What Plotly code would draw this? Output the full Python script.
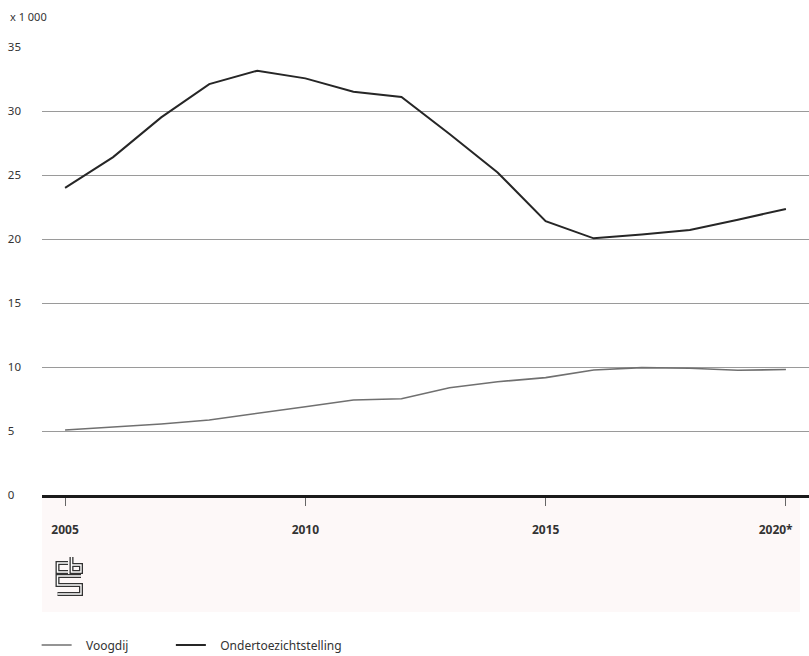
import plotly.graph_objects as go

years = list(range(2005, 2021))
ondertoezichtstelling = [24.0, 26.4, 29.5, 32.1, 33.15, 32.55, 31.5, 31.1, 28.2, 25.2, 21.4, 20.05, 20.35, 20.7, 21.5, 22.35]
voogdij = [5.08, 5.3, 5.55, 5.86, 6.4, 6.9, 7.42, 7.52, 8.38, 8.85, 9.17, 9.77, 9.95, 9.9, 9.75, 9.8]

y_ticks = [0, 5, 10, 15, 20, 25, 30, 35]
y_ticktext = ["0\u2007", "5\u2007", "10", "15", "20", "25", "30", "35"]
x_ticks = [2005, 2010, 2015, 2020]
x_ticktext = ["<b>2005</b>", "<b>2010</b>", "<b>2015</b>", "<b>2020*</b>\u2007\u2007\u2007"]

W, H = 809, 656
L, R, T, B = 42, 0, 47, 161
pw, ph = W - L - R, H - T - B

def px(x):
    return (x - L) / pw

def py(y):
    return (H - B - y) / ph

fig = go.Figure()
fig.add_trace(go.Scatter(x=years, y=voogdij, mode="lines",
                         name="\u00a0\u00a0\u00a0Voogdij" + "\u00a0" * 12,
                         line=dict(color="#707070", width=1.6)))
fig.add_trace(go.Scatter(x=years, y=ondertoezichtstelling, mode="lines",
                         name="\u00a0\u00a0\u00a0Ondertoezichtstelling",
                         line=dict(color="#262626", width=2)))

shapes = []
shapes.append(dict(type="rect", xref="paper", yref="paper", x0=px(42), x1=px(800), y0=py(612), y1=py(497),
                   fillcolor="#fdf8f8", line=dict(width=0), layer="below"))

logo_paths = [
    [(68, 563), (57.5, 563), (57.5, 572), (68, 572)],
    [(71.5, 557), (71.5, 572), (81, 572), (81, 565), (71.5, 565)],
    [(81, 576), (57.5, 576), (57.5, 585), (81, 585), (81, 594), (57.5, 594)],
]
for pts in logo_paths:
    d = "M " + " L ".join(f"{px(x):.5f},{py(y):.5f}" for x, y in pts)
    shapes.append(dict(type="path", xref="paper", yref="paper", path=d, line=dict(color="#333333", width=4)))
    shapes.append(dict(type="path", xref="paper", yref="paper", path=d, line=dict(color="#ffffff", width=1.4)))

fig.update_layout(
    width=W, height=H,
    margin=dict(l=L, r=R, t=T, b=B, autoexpand=False),
    paper_bgcolor="white", plot_bgcolor="white",
    font=dict(family="Noto Sans", size=11, color="#333333"),
    showlegend=True,
    legend=dict(orientation="h", x=-0.007, xanchor="left", y=py(645), yanchor="middle",
                font=dict(size=12, color="#333333"), itemwidth=30, traceorder="normal"),
    shapes=shapes,
    annotations=[dict(text="x 1 000", xref="paper", yref="paper", x=px(8), y=py(17),
                      xanchor="left", yanchor="middle", showarrow=False,
                      font=dict(size=11, color="#333333"))],
)
fig.update_xaxes(range=[2004.52, 2020.48], tickvals=x_ticks, ticktext=x_ticktext, automargin=False,
                 ticklabeloverflow="allow", ticklabelstandoff=14,
                 showgrid=False, zeroline=False, showline=True, linecolor="#1a1a1a", linewidth=2.5,
                 ticks="outside", ticklen=8, tickcolor="#666666", tickwidth=1,
                 tickfont=dict(size=12, color="#333333"))
fig.update_yaxes(range=[0, 35], tickvals=y_ticks, ticktext=y_ticktext, automargin=False,
                 showgrid=True, gridcolor="#9a9a9a", gridwidth=1, zeroline=False,
                 ticks="", ticklabelstandoff=20, tickfont=dict(size=11.5, color="#333333"))

fig.write_html("out.html", config={"displayModeBar": False},
               post_script="document.body.style.margin='0';document.body.style.overflow='hidden';")
